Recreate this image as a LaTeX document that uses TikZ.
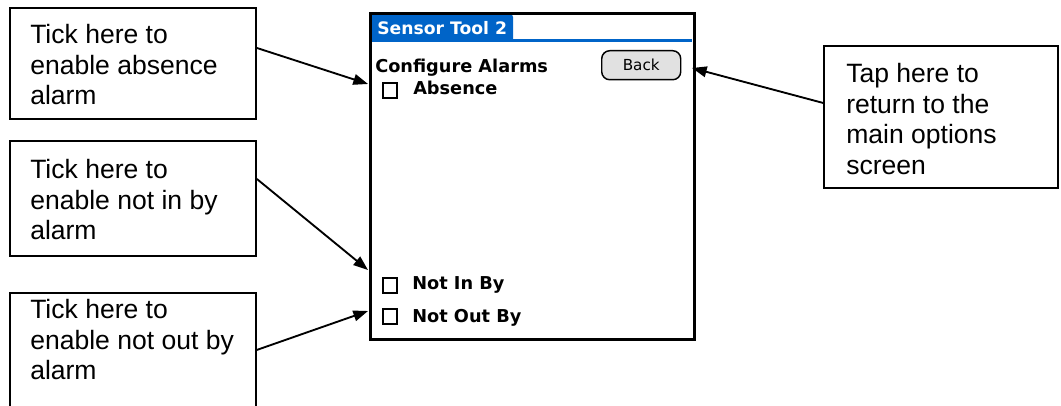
\documentclass[tikz,border=0pt]{standalone}
\usepackage{fontspec}
\setmainfont{Liberation Sans}
\newfontfamily\palm{DejaVu Sans}
\usetikzlibrary{arrows.meta}
\definecolor{palmblue}{RGB}{0,100,200}
\definecolor{btngray}{RGB}{225,225,225}
\begin{document}
\begin{tikzpicture}[x=0.75pt,y=-0.75pt,
  callbox/.style={draw=black, line width=1.4pt, inner sep=0pt, anchor=north west},
  calltext/.style={anchor=north west, inner sep=0pt, align=left, font=\fontsize{19.9}{23}\selectfont},
  arr/.style={line width=1.4pt, -{Triangle[length=11pt,width=8pt]}},
  palmtxt/.style={font=\palm\bfseries\fontsize{13.3}{15}\selectfont, inner sep=0pt, anchor=base west},
  chk/.style={draw, line width=1.4pt, minimum width=10.5pt, minimum height=11.25pt, inner sep=0pt, anchor=north west}
]
\useasboundingbox (0,0) rectangle (1061,406);
\begin{scope}
\clip (0,0) rectangle (1061,406);
% callout boxes
\node[callbox, minimum width=184.5pt, minimum height=83.25pt] (b1) at (9,7) {};
\node[callbox, minimum width=184.5pt, minimum height=86.25pt] (b2) at (9,140) {};
\node[callbox, minimum width=184.5pt, minimum height=90pt] (b3) at (9,292) {};
\node[callbox, minimum width=175.5pt, minimum height=106.5pt] (r) at (823,45) {};
\node[calltext] (l1) at (30,24) {Tick here to\\enable absence\\alarm};
\node[calltext] (l2) at (30,159) {Tick here to\\enable not in by\\alarm};
\node[calltext] (l3) at (30,299) {Tick here to\\enable not out by\\alarm};
\node[calltext] (l4) at (846,63) {Tap here to\\return to the\\main options\\screen};
% screen
\fill[palmblue] (370,42) [rounded corners=3pt] -- (370,13) -- (513,13) [sharp corners] -- (513,42) -- cycle;
\fill[palmblue] (513,39) rectangle (692,42);
\node[draw, line width=2.2pt, minimum width=243pt, minimum height=244.5pt, anchor=north west, inner sep=0pt] (scr) at (369,12) {};
\node[palmtxt, text=white, font=\palm\bfseries\fontsize{12.9}{15}\selectfont] (title) at (377,35) {Sensor Tool 2};
\node[palmtxt] (cfg) at (375,73) {Configure Alarms};
\node[draw, line width=1.1pt, fill=btngray, rounded corners=6pt, minimum width=59.25pt, minimum height=21.75pt, anchor=north west, inner sep=0pt, font=\palm\fontsize{11.4}{13}\selectfont] (back) at (601,50) {Back};
\node[chk] (ca) at (382,82) {};
\node[chk] (cb) at (382,277) {};
\node[chk] (cc) at (382,308) {};
\node[palmtxt] (ta) at (413,95) {Absence};
\node[palmtxt] (tb) at (412,290) {Not In By};
\node[palmtxt] (tc) at (412,322) {Not Out By};
% connectors
\coordinate (t1) at (368,84);
\coordinate (t2) at (368,270);
\coordinate (t3) at (368,311);
\coordinate (t4) at (692,68);
\draw[arr] ([yshift=11.6pt]b1.east) -- (t1);
\draw[arr] ([yshift=14.6pt]b2.east) -- (t2);
\draw[arr] ([yshift=2.25pt]b3.east) -- (t3);
\draw[arr] ([yshift=10.5pt]r.west) -- (t4);
\end{scope}
\end{tikzpicture}
\end{document}
